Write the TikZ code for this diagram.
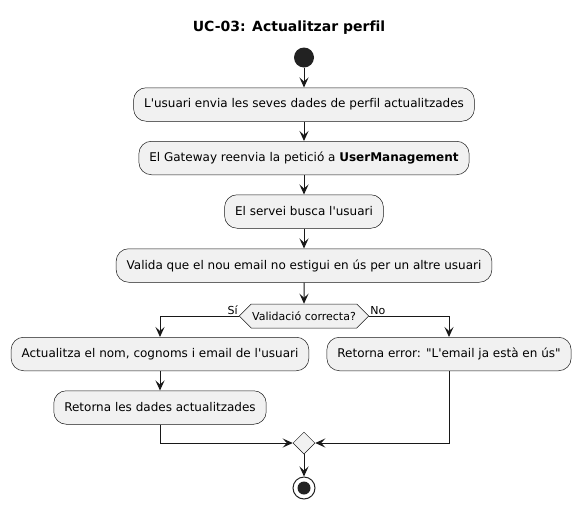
\documentclass[tikz,border=0pt]{standalone}
\usepackage{fontspec}
\setmainfont{DejaVu Sans}[Ligatures={TeXOff,CommonOff}]
\usetikzlibrary{arrows.meta,shapes.geometric,shapes.symbols}
\definecolor{umlline}{HTML}{181818}
\definecolor{umlfill}{HTML}{F1F1F1}
\definecolor{umldot}{HTML}{222222}

\begin{document}
\begin{tikzpicture}[x=1pt,y=-1pt,
    act/.style={draw=umlline,fill=umlfill,line width=0.5pt,rounded corners=12.5pt,
      minimum height=33.5pt,inner xsep=10.5pt,font=\fontsize{12}{14}\selectfont},
    choice/.style={signal,signal to=east and west,draw=umlline,fill=umlfill,line width=0.5pt,
      minimum height=24pt,inner xsep=1pt,inner ysep=0pt,font=\fontsize{11}{13}\selectfont},
    lbl/.style={font=\fontsize{11}{13}\selectfont,inner sep=1pt},
    flow/.style={draw=umlline,line width=1pt,-{Stealth[length=10pt,width=9pt,inset=4pt]}}]
  \useasboundingbox (0,0) rectangle (581,507);

  \node[font=\bfseries\fontsize{14}{17}\selectfont] (title) at (289,28) {UC-03: Actualitzar perfil};
  \node[circle,fill=umldot,minimum size=20pt,inner sep=0] (start) at (304,57.5) {};

  \node[act] (send) at (304,104.5) {L'usuari envia les seves dades de perfil actualitzades};
  \node[act] (forward) at (304,158) {El Gateway reenvia la petició a \textbf{UserManagement}};
  \node[act] (search) at (304,211.5) {El servei busca l'usuari};
  \node[act] (validate) at (304,265.5) {Valida que el nou email no estigui en ús per un altre usuari};

  \node[choice] (check) at (304,316) {Validació correcta?};
  \node[lbl,anchor=south east] (yes) at (check.west) {Sí};
  \node[lbl,anchor=south west] (no) at (check.east) {No};

  \node[act] (update) at (160,354) {Actualitza el nom, cognoms i email de l'usuari};
  \node[act] (reply) at (160,407.5) {Retorna les dades actualitzades};
  \node[act] (error) at (449,354) {Retorna error: "L'email ja està en ús"};

  \node[diamond,draw=umlline,fill=umlfill,line width=0.5pt,minimum size=22pt,inner sep=0] (merge) at (304,443) {};
  \node[circle,draw=umldot,line width=1pt,minimum size=22pt,inner sep=0] (stop) at (304,488) {};
  \fill[umldot] (stop.center) circle (6.5);

  \foreach \a/\b in {start/send,send/forward,forward/search,search/validate,validate/check,update/reply,merge/stop}{
    \draw[flow] (\a) -- (\b);
  }

  \draw[flow] (check.west) -| (update.north);
  \draw[flow] (check.east) -| (error.north);
  \draw[flow] (reply.south) |- (merge.west);
  \draw[flow] (error.south) |- (merge.east);
\end{tikzpicture}
\end{document}
